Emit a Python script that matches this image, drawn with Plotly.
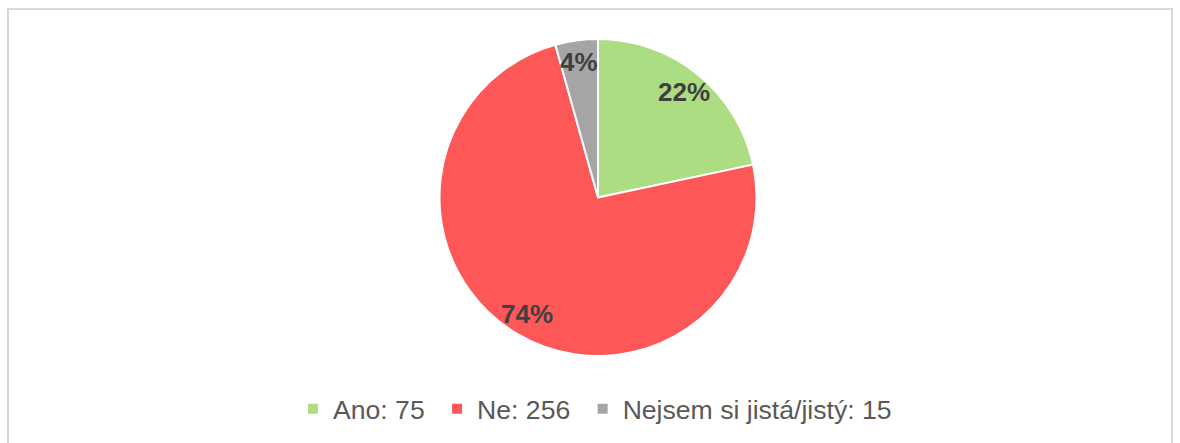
import numpy as np
import plotly.graph_objects as go

categories = ["Ano", "Ne", "Nejsem si jistá/jistý"]
values = [75, 256, 15]
colors = ["#addd82", "#fd5757", "#a5a5a5"]

# legend entries "Category: value" (non-breaking space pads the entry gap)
legend_names = [f"{c}: {v}" + ("\u00a0" if i < len(values) - 1 else "")
                for i, (c, v) in enumerate(zip(categories, values))]

W, H = 1180, 443
ml, mr, mt, mb = 16, 0, 39, 87
pw, ph = W - ml - mr, H - mt - mb

def px2paper_x(px):
    return (px - ml) / pw

def px2paper_y(py):
    return (H - mb - py) / ph

fig = go.Figure(go.Pie(
    labels=legend_names,
    values=values,
    sort=False,
    direction="clockwise",
    rotation=0,
    marker=dict(colors=colors, line=dict(color="white", width=2)),
    textinfo="none",
    hoverinfo="label+percent",
))

# Data labels placed at ~0.85 of the radius along each slice's mid-angle
total = float(np.sum(values))
fracs = np.array(values) / total
cum = np.cumsum(fracs) - fracs / 2
radius_px = min(pw, ph) / 2
cx_px = ml + pw / 2
cy_px = mt + ph / 2
for f, c in zip(fracs, cum):
    ang = 2 * np.pi * c  # clockwise from 12 o'clock
    lx = cx_px + 0.86 * radius_px * np.sin(ang)
    ly = cy_px - 0.86 * radius_px * np.cos(ang)
    fig.add_annotation(x=px2paper_x(lx), y=px2paper_y(ly), xref="paper", yref="paper",
                       text=f"<b>{round(f * 100):.0f}%</b>", showarrow=False,
                       font=dict(family="Liberation Sans, Arial", size=26, color="#404040"),
                       xanchor="center", yanchor="middle")

fig.add_shape(type="rect", xref="paper", yref="paper",
              x0=px2paper_x(8), x1=px2paper_x(1172), y0=px2paper_y(9), y1=px2paper_y(445),
              line=dict(color="#d9d9d9", width=2), fillcolor="rgba(0,0,0,0)", layer="below")

fig.update_layout(
    width=W, height=H,
    margin=dict(l=ml, r=mr, t=mt, b=mb),
    paper_bgcolor="white",
    plot_bgcolor="white",
    font=dict(family="Liberation Sans, Arial", color="#595959"),
    showlegend=True,
    legend=dict(orientation="h", x=px2paper_x(293), xanchor="left", y=px2paper_y(409), yanchor="middle",
                font=dict(size=26.6, color="#595959"), itemwidth=30, traceorder="normal"),
)

fig.write_html("out.html", config={"displayModeBar": False},
               post_script="document.body.style.margin='0';document.body.style.overflow='hidden';")
